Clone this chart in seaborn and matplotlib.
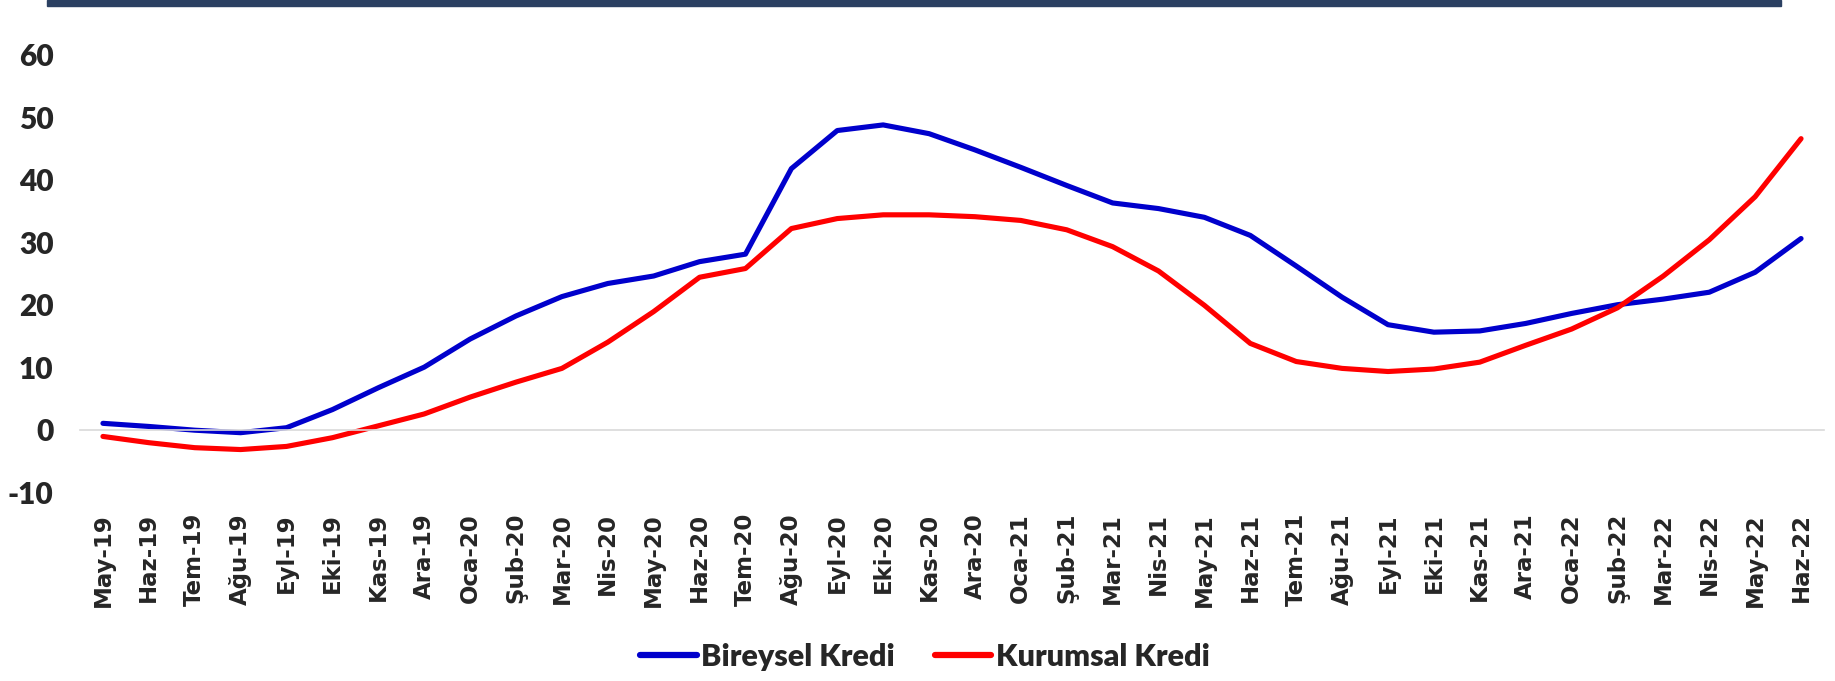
import numpy as np
import pandas as pd
import matplotlib
matplotlib.use("Agg")
import matplotlib.pyplot as plt
from matplotlib.patches import Rectangle
from matplotlib.ticker import FixedLocator
import seaborn as sns

months = ["May-19", "Haz-19", "Tem-19", "Ağu-19", "Eyl-19", "Eki-19", "Kas-19", "Ara-19",
          "Oca-20", "Şub-20", "Mar-20", "Nis-20", "May-20", "Haz-20", "Tem-20", "Ağu-20",
          "Eyl-20", "Eki-20", "Kas-20", "Ara-20", "Oca-21", "Şub-21", "Mar-21", "Nis-21",
          "May-21", "Haz-21", "Tem-21", "Ağu-21", "Eyl-21", "Eki-21", "Kas-21", "Ara-21",
          "Oca-22", "Şub-22", "Mar-22", "Nis-22", "May-22", "Haz-22"]

bireysel = [1.0, 0.5, -0.1, -0.5, 0.3, 3.2, 6.7, 10.0, 14.5, 18.2,
            21.3, 23.4, 24.6, 26.9, 28.1, 41.8, 47.9, 48.8, 47.4, 44.8,
            42.0, 39.1, 36.3, 35.4, 34.0, 31.1, 26.2, 21.2, 16.8, 15.6,
            15.8, 17.0, 18.6, 20.0, 20.9, 22.0, 25.2, 30.6]

kurumsal = [-1.1, -2.1, -2.9, -3.2, -2.7, -1.3, 0.6, 2.5, 5.2, 7.6,
            9.8, 14.0, 18.9, 24.4, 25.8, 32.2, 33.8, 34.4, 34.4, 34.1,
            33.5, 32.0, 29.3, 25.4, 19.9, 13.8, 10.9, 9.8, 9.3, 9.7,
            10.8, 13.5, 16.1, 19.5, 24.6, 30.4, 37.3, 46.6]

series_names = ["Bireysel Kredi", "Kurumsal Kredi"]
colors = ["#0000CC", "#FF0000"]

x = np.arange(len(months))
df = pd.concat([
    pd.DataFrame({"x": x, "val": bireysel, "seri": series_names[0]}),
    pd.DataFrame({"x": x, "val": kurumsal, "seri": series_names[1]}),
])

sns.set_style("white")
plt.rcParams["axes.unicode_minus"] = False
W, H = 1835, 681
fig = plt.figure(figsize=(W / 100, H / 100), dpi=100)
ax = fig.add_axes([80 / W, 1 - 492 / H, (1824 - 80) / W, (492 - 55) / H])

sns.lineplot(data=df, x="x", y="val", hue="seri", palette=colors, linewidth=3.7,
             ax=ax, legend=False, solid_capstyle="round")

ax.set_xlim(-0.5, len(months) - 0.5)
ax.set_ylim(-10, 60)
ax.set_yticks(range(-10, 61, 10))
ax.set_xlabel("")
ax.set_ylabel("")

for s in ["top", "right", "left"]:
    ax.spines[s].set_visible(False)
ax.spines["bottom"].set_position(("data", 0))
ax.spines["bottom"].set_color("#D9D9D9")
ax.spines["bottom"].set_linewidth(1.2)

ax.set_xticks(x)
ax.set_xticklabels(months, rotation=90, fontweight="bold", fontsize=16.5,
                   family="DejaVu Sans", va="top", ha="center")
ax.xaxis.set_minor_locator(FixedLocator(np.arange(-0.5, len(months), 1.0)))
ax.tick_params(axis="x", which="major", length=0, pad=60)
ax.tick_params(axis="x", which="minor", length=7.5, width=1.2, color="#D9D9D9", direction="out")

ax.tick_params(axis="y", length=0, pad=19)
for lab in ax.get_yticklabels():
    lab.set_family(["Lato", "DejaVu Sans"])
    lab.set_fontweight("heavy")
    lab.set_fontsize(21.5)

handles = [plt.Line2D([], [], color=c, linewidth=4.5, solid_capstyle="round") for c in colors]
ax.legend(handles, series_names, loc="center", bbox_to_anchor=(0.504, 0.035),
          bbox_transform=fig.transFigure, ncol=2, frameon=False,
          prop={"family": ["Lato", "DejaVu Sans"], "weight": "heavy", "size": 22},
          handlelength=1.85, handletextpad=0.15, columnspacing=1.3)

fig.patches.append(Rectangle((47 / W, 1 - 6 / H), (1781 - 47) / W, 6 / H,
                             transform=fig.transFigure, color="#2B4062", zorder=5))

fig.savefig("out.png", dpi=100)
